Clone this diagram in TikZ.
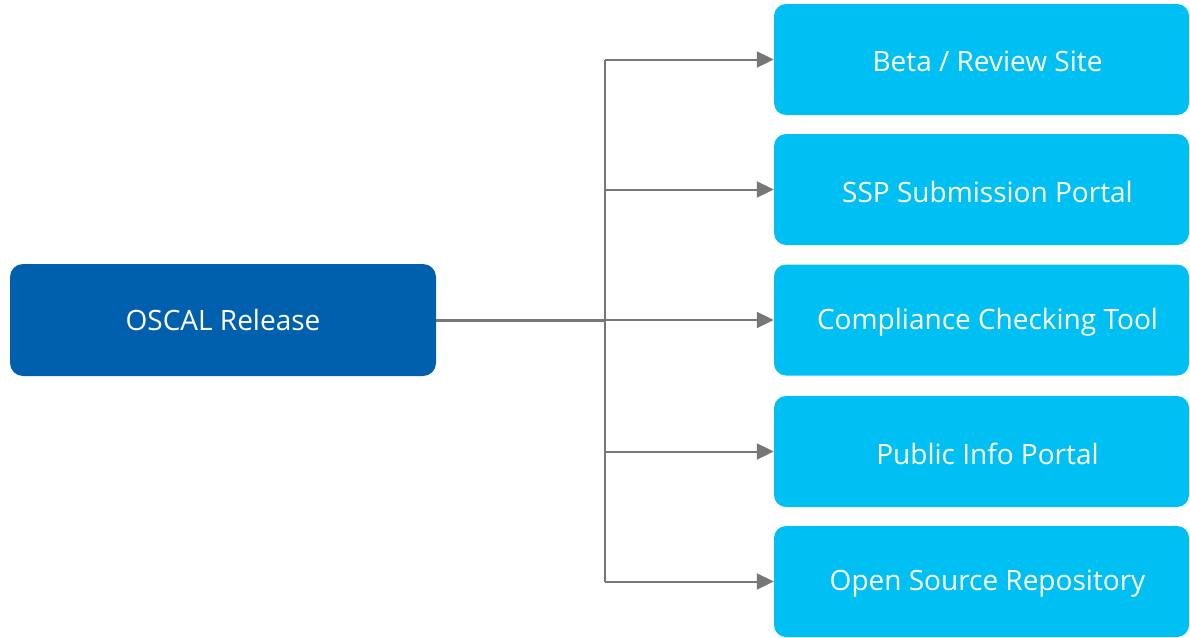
\documentclass[tikz,border=0pt]{standalone}
\usepackage{fontspec}
\setmainfont{Open Sans}
\usetikzlibrary{arrows.meta}
\definecolor{darkblue}{HTML}{0060AE}
\definecolor{lightblue}{HTML}{00BFF3}
\definecolor{linegray}{HTML}{777777}
\begin{document}
\begin{tikzpicture}[x=1pt,y=-1pt,
  boxtext/.style={text=white,font=\fontsize{28}{32}\selectfont},
  mainbox/.style={fill=darkblue,rounded corners=13pt,minimum width=426pt,minimum height=112pt,boxtext,inner sep=0pt},
  outbox/.style={fill=lightblue,rounded corners=12pt,minimum width=415pt,minimum height=111pt,inner sep=0pt},
  outtext/.style={label={[boxtext,xshift=6pt,yshift=-2pt]center:#1}},
  conn/.style={draw=linegray,line width=2pt,-{Triangle[length=17pt,width=16pt]}}]
\useasboundingbox (0,0) rectangle (1190,637);
\node[mainbox] (src) at (223,320) {OSCAL Release};
\node[outbox,outtext={Beta / Review Site}] (o1) at (981.5,59.5) {};
\node[outbox,outtext={SSP Submission Portal}] (o2) at (981.5,189.5) {};
\node[outbox,outtext={Compliance Checking Tool}] (o3) at (981.5,320) {};
\node[outbox,outtext={Public Info Portal}] (o4) at (981.5,451.5) {};
\node[outbox,outtext={Open Source Repository}] (o5) at (981.5,581.5) {};
\coordinate (j) at (605,320);
\coordinate (top) at (605,59.5);
\coordinate (bot) at (605,581.5);
\draw[linegray,line width=3pt] (src.east) -- (j);
\draw[linegray,line width=2pt] (top) -- (bot);
\draw[conn] (top) -- (o1.west);
\draw[conn] (605,189.5) -- (o2.west);
\draw[conn] (j) -- (o3.west);
\draw[conn] (605,451.5) -- (o4.west);
\draw[conn] (bot) -- (o5.west);
\end{tikzpicture}
\end{document}
